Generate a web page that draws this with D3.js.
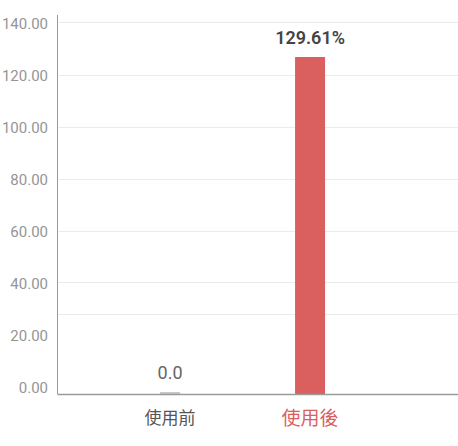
<!DOCTYPE html>
<html>
<head>
<meta charset="utf-8">
<script src="https://cdn.jsdelivr.net/npm/d3@7"></script>
<style>
  html, body { margin: 0; padding: 0; background: #fff; }
  svg { display: block; font-family: Roboto, "Noto Sans CJK TC", sans-serif; }
</style>
</head>
<body>
<svg id="chart" width="458" height="446"></svg>
<script>
// chart data
const categories = ["使用前", "使用後"];
const values = [0, 129.61];
const valueLabels = ["0.0", "129.61%"];
const tickValues = [0, 20, 40, 60, 80, 100, 120, 140];
// gridlines as drawn in the source (not aligned with ticks)
const gridValues = [30.7, 43, 62.7, 82.6, 102.6, 122.7, 143.1];

const svg = d3.select("#chart");
const plotLeft = 57.5, plotRight = 458, plotBottom = 394, plotTop = 15;

const y = d3.scaleLinear().domain([0, 145.77]).range([plotBottom, plotTop]);
const x = d3.scalePoint().domain(categories).range([plotLeft, plotRight]).padding(0.93).align(0.432);

// gridlines
svg.append("g").selectAll("line")
    .data(gridValues)
    .enter().append("line")
    .attr("x1", plotLeft + 1).attr("x2", plotRight)
    .attr("y1", d => Math.round(y(d)) + 0.5)
    .attr("y2", d => Math.round(y(d)) + 0.5)
    .attr("stroke", "#ebebeb")
    .attr("stroke-width", 1);

// y labels
svg.append("g").selectAll("text")
    .data(tickValues)
    .enter().append("text")
    .attr("x", 48)
    .attr("y", d => y(d) - 1.2)
    .attr("text-anchor", "end")
    .attr("font-size", 15)
    .attr("fill", "#959595")
    .text(d => d3.format(".2f")(d));

// bars
const data = categories.map((c, i) => ({ cat: c, value: values[i], label: valueLabels[i] }));

svg.append("g").selectAll("rect")
    .data(data)
    .enter().append("rect")
    .attr("x", d => x(d.cat) - (d.value === 0 ? 10 : 15))
    .attr("width", d => d.value === 0 ? 20 : 30)
    .attr("y", d => d.value === 0 ? plotBottom - 2 : y(d.value))
    .attr("height", d => d.value === 0 ? 2 : plotBottom - y(d.value))
    .attr("fill", d => d.value === 0 ? "#c8c8c8" : "#d9605e");

// value labels
svg.append("g").selectAll("text")
    .data(data)
    .enter().append("text")
    .attr("x", d => x(d.cat))
    .attr("y", d => (d.value === 0 ? plotBottom - 2 : y(d.value)) - 13)
    .attr("text-anchor", "middle")
    .attr("font-size", 18)
    .attr("font-weight", d => d.value === 0 ? 400 : 600)
    .attr("fill", d => d.value === 0 ? "#666" : "#444")
    .text(d => d.label);

// axes lines
svg.append("line")
    .attr("x1", plotLeft).attr("x2", plotLeft)
    .attr("y1", plotTop).attr("y2", plotBottom)
    .attr("stroke", "#9a9a9a");
svg.append("line")
    .attr("x1", plotLeft).attr("x2", plotRight)
    .attr("y1", plotBottom + 0.5).attr("y2", plotBottom + 0.5)
    .attr("stroke", "#9a9a9a")
    .attr("stroke-width", 1.5);

// category labels, last one highlighted
svg.append("g").selectAll("text")
    .data(categories)
    .enter().append("text")
    .attr("x", d => x(d))
    .attr("y", 418)
    .attr("dominant-baseline", "central")
    .attr("text-anchor", "middle")
    .attr("font-size", (d, i) => i === categories.length - 1 ? 19 : 17)
    .attr("fill", (d, i) => i === categories.length - 1 ? "#d9605e" : "#555")
    .text(d => d);
</script>
</body>
</html>
